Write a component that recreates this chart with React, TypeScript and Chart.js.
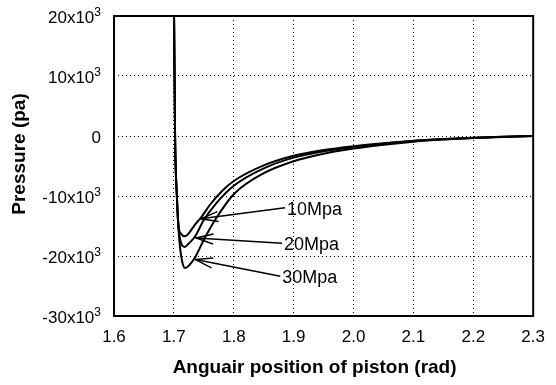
import React, { useEffect, useRef } from 'react';
import { Chart, registerables } from 'chart.js';

Chart.register(...registerables);

const xTickValues = [1.6, 1.7, 1.8, 1.9, 2.0, 2.1, 2.2, 2.3];
const xTickLabels = ['1.6', '1.7', '1.8', '1.9', '2.0', '2.1', '2.2', '2.3'];
const yTickValues = [-30000, -20000, -10000, 0, 10000, 20000];
const yTickBase = ['-30x10', '-20x10', '-10x10', '0', '10x10', '20x10'];
const yTickExp = ['3', '3', '3', '', '3', '3'];

const angle10 = [1.6995, 1.702, 1.705, 1.708, 1.712, 1.718, 1.725, 1.735, 1.746, 1.760, 1.780, 1.800, 1.850, 1.900, 1.950, 2.000, 2.050, 2.100, 2.150, 2.200, 2.250, 2.300];
const pressure10 = [30000, 0, -10000, -15200, -16300, -16700, -16200, -14800, -13500, -11500, -9200, -7500, -4900, -3300, -2350, -1700, -1200, -800, -500, -300, -120, 0];

const angle20 = [1.6995, 1.702, 1.705, 1.708, 1.712, 1.718, 1.725, 1.735, 1.750, 1.770, 1.800, 1.850, 1.900, 1.950, 2.000, 2.050, 2.100, 2.150, 2.200, 2.250, 2.300];
const pressure20 = [30000, 0, -10000, -15500, -17800, -18500, -17900, -16800, -14000, -11300, -8300, -5400, -3600, -2550, -1850, -1300, -850, -550, -320, -130, 0];

const angle30 = [1.6995, 1.702, 1.705, 1.708, 1.713, 1.719, 1.726, 1.735, 1.750, 1.770, 1.800, 1.850, 1.900, 1.950, 2.000, 2.050, 2.100, 2.150, 2.200, 2.250, 2.300];
const pressure30 = [30000, 0, -10000, -16000, -20500, -22000, -21500, -20300, -17300, -13800, -9700, -6200, -4200, -2950, -2100, -1450, -950, -600, -350, -150, 0];

const seriesNames = ['10Mpa', '20Mpa', '30Mpa'];
const labelAngles = [1.889, 1.884, 1.881];
const labelPressures = [-12300, -18200, -23700];
const arrowTipAngles = [1.745, 1.737, 1.736];
const arrowTipPressures = [-13800, -17000, -20600];

const FONT = '"Liberation Sans", Arial, Helvetica, sans-serif';

const toPoints = (xs: number[], ys: number[]) => xs.map((v, i) => ({ x: v, y: ys[i] }));

const decorPlugin = {
  id: 'decor',
  afterDatasetsDraw(chart: any) {
    const { ctx, chartArea, scales } = chart;
    const x = scales.x;
    const y = scales.y;
    ctx.save();
    ctx.strokeStyle = '#000';
    ctx.lineWidth = 2;
    ctx.strokeRect(chartArea.left, chartArea.top, chartArea.right - chartArea.left, chartArea.bottom - chartArea.top);

    // y tick labels with superscript exponent
    ctx.fillStyle = '#000';
    ctx.textBaseline = 'alphabetic';
    yTickValues.forEach((v, i) => {
      const py = y.getPixelForValue(v) + 7;
      const right = chartArea.left - 13;
      let expW = 0;
      if (yTickExp[i]) {
        ctx.font = `12px ${FONT}`;
        ctx.textAlign = 'right';
        ctx.fillText(yTickExp[i], right, py - 7);
        expW = ctx.measureText(yTickExp[i]).width;
      }
      ctx.font = `17px ${FONT}`;
      ctx.textAlign = 'right';
      ctx.fillText(yTickBase[i], right - expW, py);
    });

    ctx.lineWidth = 1.5;
    seriesNames.forEach((name, i) => {
      const lx = x.getPixelForValue(labelAngles[i]);
      const ly = y.getPixelForValue(labelPressures[i]);
      const tx = x.getPixelForValue(arrowTipAngles[i]);
      const ty = y.getPixelForValue(arrowTipPressures[i]);
      const sx = lx - 2;
      const sy = ly - 2;
      ctx.beginPath();
      ctx.moveTo(sx, sy);
      ctx.lineTo(tx, ty);
      ctx.stroke();
      const ang = Math.atan2(sy - ty, sx - tx);
      const L = 18;
      const h = 0.28;
      ctx.beginPath();
      ctx.moveTo(tx + L * Math.cos(ang - h), ty + L * Math.sin(ang - h));
      ctx.lineTo(tx, ty);
      ctx.lineTo(tx + L * Math.cos(ang + h), ty + L * Math.sin(ang + h));
      ctx.stroke();
      ctx.font = `18px ${FONT}`;
      ctx.textAlign = 'left';
      ctx.textBaseline = 'middle';
      ctx.fillText(name, lx, ly);
    });

    ctx.font = `bold 19px ${FONT}`;
    ctx.textAlign = 'center';
    ctx.textBaseline = 'alphabetic';
    ctx.fillText('Anguair position of piston (rad)', (chartArea.left + chartArea.right) / 2 - 9, 373);
    ctx.save();
    ctx.translate(25, (chartArea.top + chartArea.bottom) / 2 - 12);
    ctx.rotate(-Math.PI / 2);
    ctx.fillText('Pressure (pa)', 0, 0);
    ctx.restore();
    ctx.restore();
  },
};

export default function App() {
  const ref = useRef<HTMLCanvasElement | null>(null);
  useEffect(() => {
    if (!ref.current) return;
    const lineStyle = {
      borderColor: '#000',
      borderWidth: 2,
      pointRadius: 0,
      fill: false,
      cubicInterpolationMode: 'monotone' as const,
    };
    const chart = new Chart(ref.current, {
      type: 'line',
      data: {
        datasets: [
          { label: seriesNames[0], data: toPoints(angle10, pressure10), ...lineStyle },
          { label: seriesNames[1], data: toPoints(angle20, pressure20), ...lineStyle },
          { label: seriesNames[2], data: toPoints(angle30, pressure30), ...lineStyle },
        ],
      },
      options: {
        responsive: false,
        animation: false,
        layout: { padding: { left: 0, top: 16, right: 13, bottom: 0 } },
        plugins: { legend: { display: false }, tooltip: { enabled: false } },
        scales: {
          x: {
            type: 'linear',
            min: 1.6,
            max: 2.3,
            afterBuildTicks: (s: any) => { s.ticks = xTickValues.map((v) => ({ value: v })); },
            afterFit: (s: any) => { s.height = 69; },
            ticks: {
              color: '#000',
              font: { family: FONT, size: 17 },
              padding: 11,
              maxRotation: 0,
              autoSkip: false,
              callback: (v: any) => {
                const i = xTickValues.findIndex((t) => Math.abs(t - v) < 1e-6);
                return i >= 0 ? xTickLabels[i] : '';
              },
            },
            grid: { color: '#000', lineWidth: 1, drawTicks: false },
            border: { display: false, dash: [1, 3] },
          },
          y: {
            type: 'linear',
            min: -30000,
            max: 20000,
            afterBuildTicks: (s: any) => { s.ticks = yTickValues.map((v) => ({ value: v })); },
            afterFit: (s: any) => { s.width = 114; },
            ticks: { display: false },
            grid: { color: '#000', lineWidth: 1, drawTicks: false },
            border: { display: false, dash: [1, 3] },
          },
        },
      },
      plugins: [decorPlugin],
    });
    return () => chart.destroy();
  }, []);
  return (
    <div style={{ position: 'absolute', left: 0, top: 0, width: 556, height: 385, background: '#fff' }}>
      <canvas ref={ref} width={556} height={385} style={{ width: 556, height: 385 }} />
    </div>
  );
}
